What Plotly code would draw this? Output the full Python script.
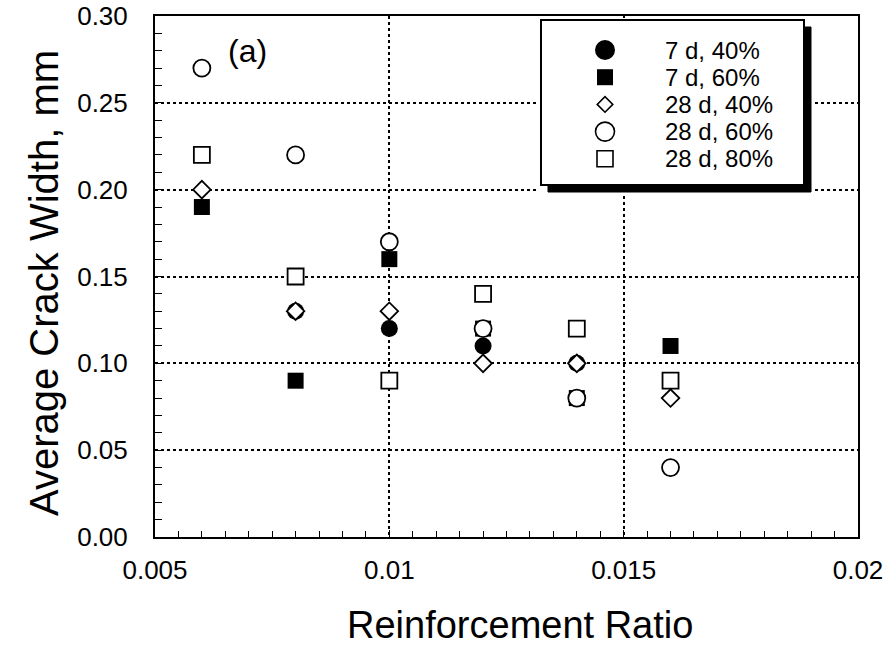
import plotly.graph_objects as go

# Reinforcement ratio of the tested specimens
ratios = [0.006, 0.008, 0.010, 0.012, 0.014, 0.016]

# Average crack width (mm) per curing age / load level
series_labels = ["7 d, 40%", "7 d, 60%", "28 d, 40%", "28 d, 60%", "28 d, 80%"]
w_7d_40 = [None, 0.13, 0.12, 0.11, 0.10, None]
w_7d_60 = [0.19, 0.09, 0.16, 0.12, 0.08, 0.11]
w_28d_40 = [0.20, 0.13, 0.13, 0.10, 0.10, 0.08]
w_28d_60 = [0.27, 0.22, 0.17, 0.12, 0.08, 0.04]
w_28d_80 = [0.22, 0.15, 0.09, 0.14, 0.12, 0.09]

x_tick_vals = [0.005, 0.01, 0.015, 0.02]
x_tick_text = ["0.005", "0.01", "0.015", "0.02"]
y_tick_vals = [0.00, 0.05, 0.10, 0.15, 0.20, 0.25, 0.30]
y_tick_text = ["0.00", "0.05", "0.10", "0.15", "0.20", "0.25", "0.30"]

FONT = "Liberation Sans, Arial, Helvetica, sans-serif"
BLACK = "black"

styles = [
    dict(symbol="circle", size=17, color=BLACK, line=dict(color=BLACK, width=0)),
    dict(symbol="square", size=16, color=BLACK, line=dict(color=BLACK, width=0)),
    dict(symbol="diamond", size=13.5, color="white", line=dict(color=BLACK, width=1.8)),
    dict(symbol="circle", size=17, color="white", line=dict(color=BLACK, width=1.8)),
    dict(symbol="square", size=16, color="white", line=dict(color=BLACK, width=1.8)),
]
legend_styles = [
    dict(symbol="circle", size=20, color=BLACK, line=dict(color=BLACK, width=0)),
    dict(symbol="square", size=16, color=BLACK, line=dict(color=BLACK, width=0)),
    dict(symbol="diamond", size=12, color="white", line=dict(color=BLACK, width=1.6)),
    dict(symbol="circle", size=19, color="white", line=dict(color=BLACK, width=1.6)),
    dict(symbol="square", size=16, color="white", line=dict(color=BLACK, width=1.6)),
]
all_series = [w_7d_40, w_7d_60, w_28d_40, w_28d_60, w_28d_80]

W, H = 891, 657
ml, mr, mt, mb = 155, 33, 16, 120
pw, ph = W - ml - mr, H - mt - mb


def px_x(p):
    return (p - ml) / pw


def px_y(p):
    return (H - mb - p) / ph


fig = go.Figure()
for name, vals, st in zip(series_labels, all_series, styles):
    fig.add_trace(go.Scatter(x=ratios, y=vals, mode="markers", name=name,
                             marker=st, showlegend=False, cliponaxis=False))

# Legend panel: its own small axes measured in screen pixels, so the box,
# its drop shadow and the key rows sit on top of the main plot.
box_l, box_r, box_t, box_b = 541, 804, 20, 185
shadow = 7
key_x, label_x = 605, 663
first_row, row_gap = 50, 27.2

for i, (name, st) in enumerate(zip(series_labels, legend_styles)):
    row_y = first_row + i * row_gap
    fig.add_trace(go.Scatter(x=[key_x], y=[row_y], mode="markers", name=name,
                             marker=st, showlegend=False, xaxis="x2", yaxis="y2"))
    fig.add_annotation(x=label_x, y=row_y, xref="x2", yref="y2", text=name,
                       showarrow=False, xanchor="left", yanchor="middle",
                       font=dict(family=FONT, size=24, color=BLACK))

fig.add_shape(type="rect", xref="x2", yref="y2", layer="below",
              x0=box_l + shadow, x1=box_r + shadow, y0=box_t + shadow, y1=box_b + shadow,
              fillcolor=BLACK, line=dict(color=BLACK, width=1))
fig.add_shape(type="rect", xref="x2", yref="y2", layer="below",
              x0=box_l, x1=box_r, y0=box_t, y1=box_b,
              fillcolor="white", line=dict(color=BLACK, width=2))

# Panel tag
fig.add_annotation(x=0.00698, y=0.280, xref="x", yref="y", text="(a)", showarrow=False,
                   xanchor="center", yanchor="middle",
                   font=dict(family=FONT, size=32, color=BLACK))

# Axis titles
fig.add_annotation(x=px_x(520), y=px_y(625), xref="paper", yref="paper",
                   text="Reinforcement Ratio", showarrow=False,
                   xanchor="center", yanchor="middle",
                   font=dict(family=FONT, size=38, color=BLACK))
fig.add_annotation(x=px_x(44), y=px_y(283), xref="paper", yref="paper",
                   text="Average Crack Width, mm", showarrow=False, textangle=-90,
                   xanchor="center", yanchor="middle",
                   font=dict(family=FONT, size=40, color=BLACK))

fig.update_layout(
    width=W, height=H,
    margin=dict(l=ml, r=mr, t=mt, b=mb, pad=0, autoexpand=False),
    paper_bgcolor="white", plot_bgcolor="white",
    font=dict(family=FONT, color=BLACK),
    xaxis=dict(range=[0.005, 0.02], tickvals=x_tick_vals, ticktext=x_tick_text,
               automargin=False,
               showline=True, linecolor=BLACK, linewidth=2, mirror=True,
               ticks="inside", ticklen=7, tickwidth=1.2, tickcolor=BLACK,
               minor=dict(dtick=0.0005, tick0=0.005, ticks="inside", ticklen=6,
                          tickwidth=1.2, tickcolor=BLACK, showgrid=False),
               showgrid=True, gridcolor=BLACK, gridwidth=1.5, griddash="dot",
               zeroline=False, tickfont=dict(size=26, family=FONT, color=BLACK),
               ticklabelstandoff=9),
    yaxis=dict(range=[0, 0.30], tickvals=y_tick_vals, ticktext=y_tick_text,
               automargin=False,
               showline=True, linecolor=BLACK, linewidth=2, mirror=True,
               ticks="inside", ticklen=7, tickwidth=1.2, tickcolor=BLACK,
               minor=dict(dtick=0.01, tick0=0, ticks="inside", ticklen=7,
                          tickwidth=1.2, tickcolor=BLACK, showgrid=False),
               showgrid=True, gridcolor=BLACK, gridwidth=1.5, griddash="dot",
               zeroline=False, tickfont=dict(size=26, family=FONT, color=BLACK),
               ticklabelstandoff=20),
    xaxis2=dict(domain=[px_x(box_l - 2), px_x(box_r + shadow + 2)],
                range=[box_l - 2, box_r + shadow + 2],
                visible=False, fixedrange=True, anchor="y2", automargin=False),
    yaxis2=dict(domain=[px_y(box_b + shadow + 2), px_y(box_t - 2)],
                range=[box_b + shadow + 2, box_t - 2],
                visible=False, fixedrange=True, anchor="x2", automargin=False),
)

fig.write_html("out.html")
